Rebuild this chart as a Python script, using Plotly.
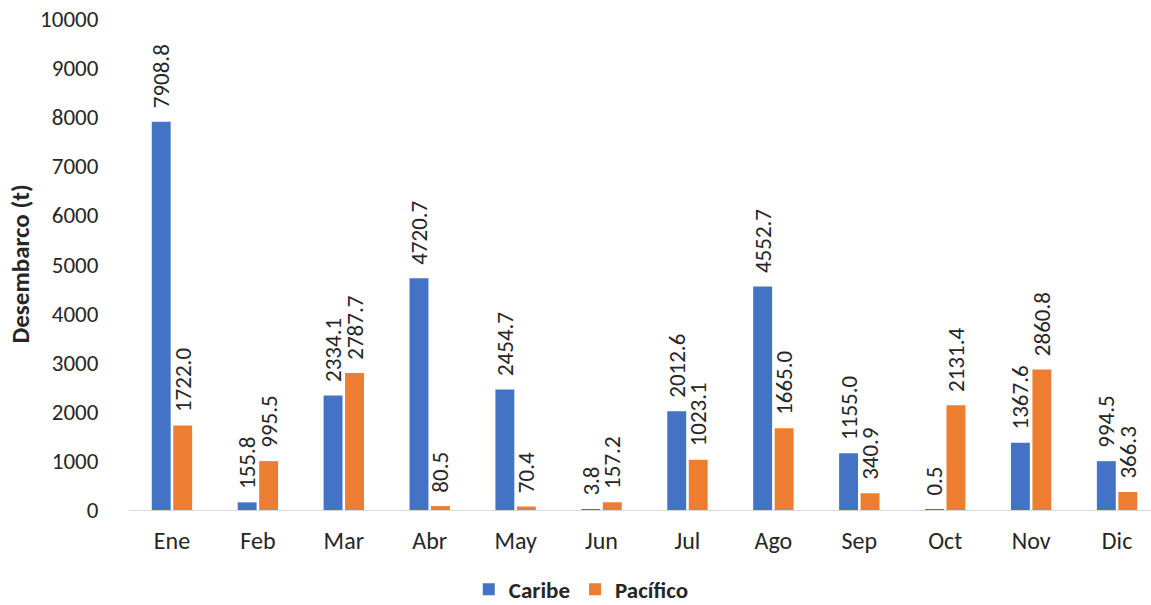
import plotly.graph_objects as go

# Monthly landings by coast (tonnes)
meses = ["Ene", "Feb", "Mar", "Abr", "May", "Jun", "Jul", "Ago", "Sep", "Oct", "Nov", "Dic"]
caribe = [7908.8, 155.8, 2334.1, 4720.7, 2454.7, 3.8, 2012.6, 4552.7, 1155.0, 0.5, 1367.6, 994.5]
pacifico = [1722.0, 995.5, 2787.7, 80.5, 70.4, 157.2, 1023.1, 1665.0, 340.9, 2131.4, 2860.8, 366.3]
y_ticks = [0, 1000, 2000, 3000, 4000, 5000, 6000, 7000, 8000, 9000, 10000]

FONT = "Carlito, Calibri, Lato, sans-serif"
TXT = "#262626"
PAD = "\u00a0\u00a0"  # spacing between bar top and its rotated value label

fig = go.Figure()
for nombre, vals, color in [("Caribe", caribe, "#4472C4"), ("Pacífico", pacifico, "#ED7D31")]:
    fig.add_trace(go.Bar(
        x=meses, y=vals, name=nombre, marker_color=color, marker_line_width=0,
        text=[f"{PAD}{v:.1f}" for v in vals], textposition="outside", textangle=-90,
        constraintext="none", cliponaxis=False,
        textfont=dict(family=FONT, size=23, color=TXT),
    ))

fig.update_layout(
    width=1151, height=605,
    margin=dict(l=129, r=0, t=19, b=95, autoexpand=False),
    paper_bgcolor="white", plot_bgcolor="white",
    barmode="group", bargap=0.5, bargroupgap=0.12,
    font=dict(family=FONT, size=23, color=TXT),
    showlegend=True,
    legend=dict(orientation="h", x=0.505, xanchor="center", xref="container",
                y=0.026, yanchor="middle", yref="container",
                font=dict(family=FONT, size=23, color=TXT, weight="bold"),
                itemwidth=30, traceorder="normal"),
    xaxis=dict(range=[-0.5, 11.395], showgrid=False, showline=True, linecolor="#d9d9d9",
               linewidth=1, ticks="outside", ticklen=9, tickcolor="rgba(0,0,0,0)",
               automargin=False,
               tickfont=dict(family=FONT, size=24, color=TXT)),
    yaxis=dict(range=[0, 10000], tickvals=y_ticks, ticktext=[str(t) for t in y_ticks],
               showgrid=False, zeroline=False, automargin=False,
               showline=False, ticks="outside", ticklen=25, tickcolor="rgba(0,0,0,0)",
               tickfont=dict(family=FONT, size=23, color=TXT)),
    annotations=[dict(text="<b>Desembarco (t)</b>", xref="paper", yref="paper",
                      x=0, y=0.5, xshift=-109, xanchor="center", yanchor="middle",
                      textangle=-90, showarrow=False,
                      font=dict(family=FONT, size=25, color=TXT))],
)

fig.write_html("out.html")
